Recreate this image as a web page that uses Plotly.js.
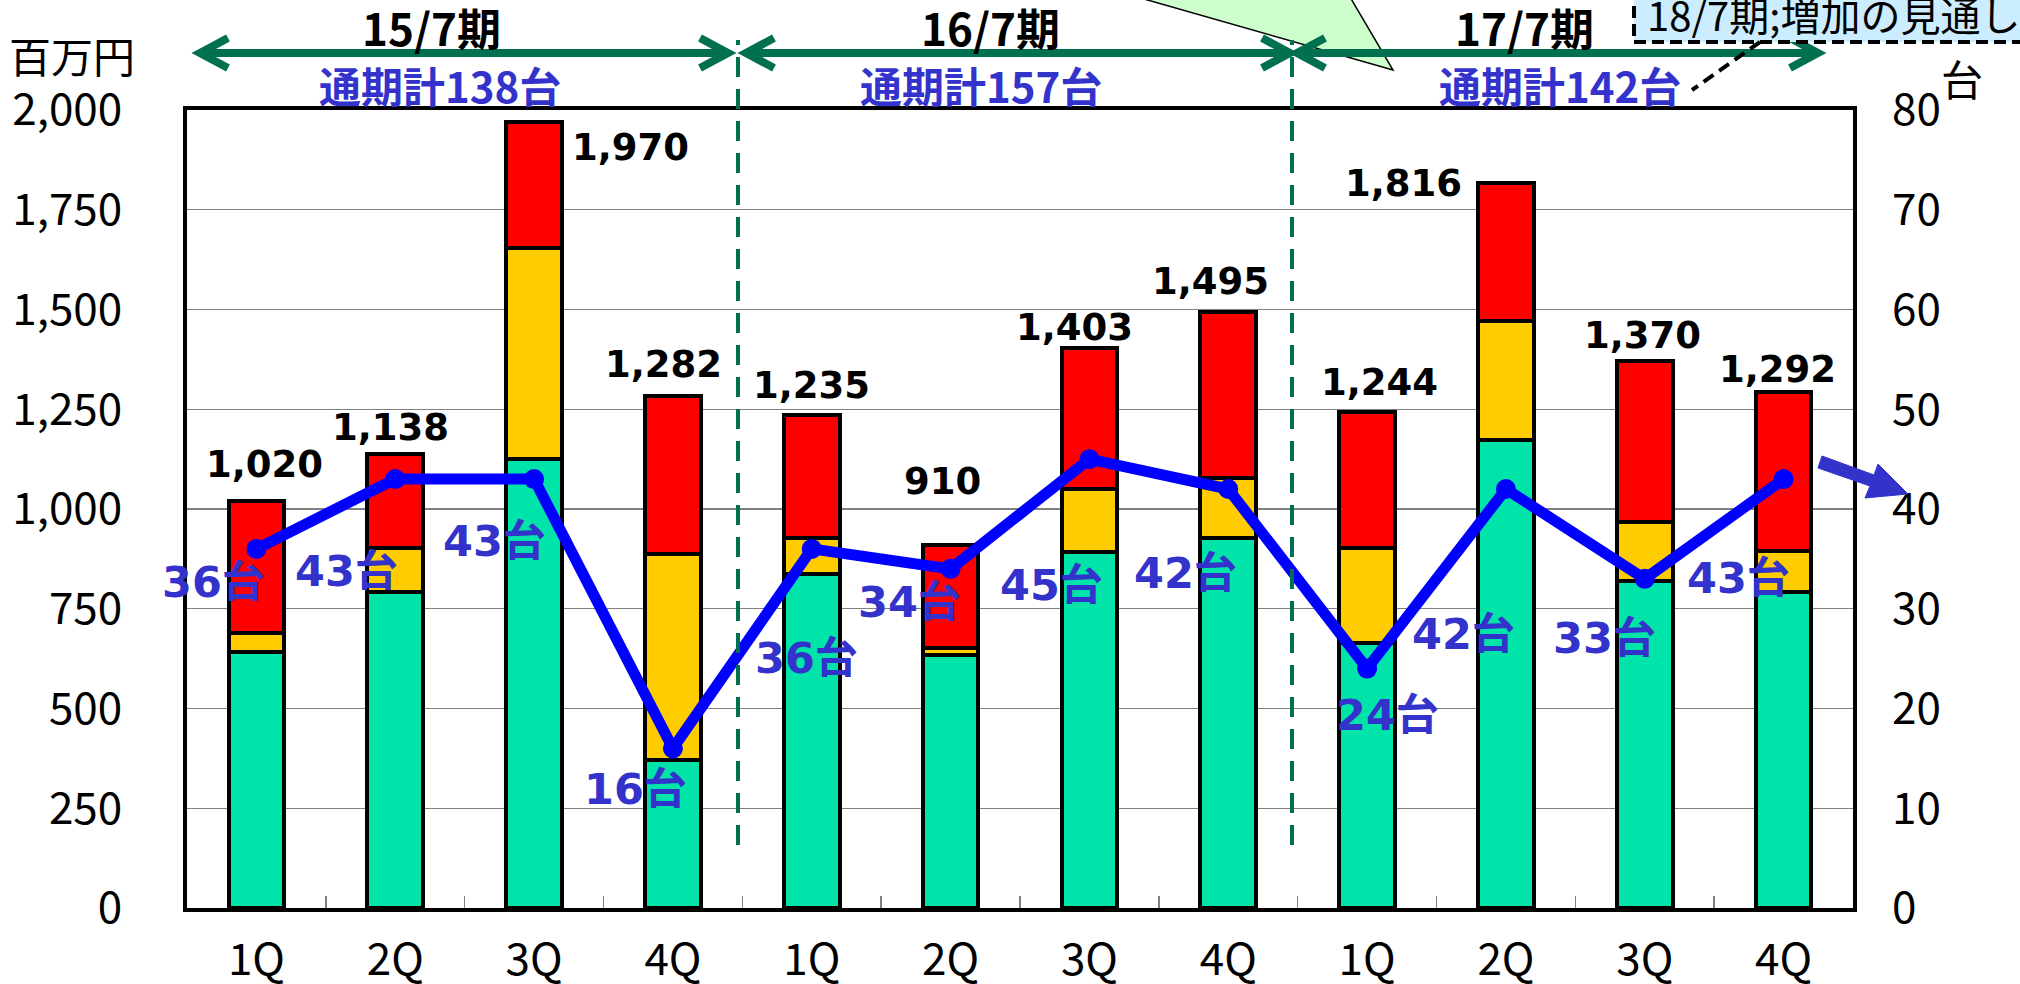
<!DOCTYPE html>
<html>
<head>
<meta charset="utf-8">
<script src="https://cdn.plot.ly/plotly-3.0.1.min.js"></script>
<style>html,body{margin:0;padding:0;background:#fff;}#chart{width:2020px;height:984px;}</style>
</head>
<body>
<div id="chart"></div>
<script>
// ---- data ----
const quarters = ['1Q','2Q','3Q','4Q','1Q','2Q','3Q','4Q','1Q','2Q','3Q','4Q'];
const greenVals  = [642, 793, 1125, 370, 838, 634, 892, 928, 665, 1173, 819, 793];
const yellowVals = [47, 109, 529, 518, 89, 18, 159, 149, 237, 299, 148, 101];
const redVals    = [331, 236, 316, 394, 308, 258, 352, 418, 342, 344, 403, 398];
const units      = [36, 43, 43, 16, 36, 34, 45, 42, 24, 42, 33, 43];
const periods    = ['15/7期', '16/7期', '17/7期'];
const leftTicks  = [0, 250, 500, 750, 1000, 1250, 1500, 1750, 2000];
const rightTicks = [0, 10, 20, 30, 40, 50, 60, 70, 80];

// ---- geometry helpers (pixel -> paper) ----
const L = 187, R = 1853, T = 110, B = 908;
const X = px => (px - L) / (R - L);
const Y = py => (B - py) / (B - T);
const path = (...subs) => subs.map(s => s.map((p, i) => (i ? 'L' : 'M') + X(p[0]).toFixed(5) + ',' + Y(p[1]).toFixed(5)).join(' ')).join(' ');

const xs = quarters.map((_, i) => i);
const totals = xs.map(i => greenVals[i] + yellowVals[i] + redVals[i]);

const barLine = {color: '#000000', width: 4};
const traces = [
  {type: 'bar', x: xs, y: greenVals, width: 0.4, marker: {color: '#00E3A9', line: barLine}, hoverinfo: 'y'},
  {type: 'bar', x: xs, y: yellowVals, width: 0.4, marker: {color: '#FFCC00', line: barLine}, hoverinfo: 'y'},
  {type: 'bar', x: xs, y: redVals, width: 0.4, marker: {color: '#FF0000', line: barLine}, hoverinfo: 'y'},
  {type: 'scatter', mode: 'lines+markers', x: xs, y: units, yaxis: 'y2',
   line: {color: '#0000FF', width: 11}, marker: {color: '#0000FF', size: 20}, hoverinfo: 'y'}
];

// label offsets (px) relative to bar top / line point
const totalShift = [[8,37],[-5,26],[96,-26],[-9,32],[0,30],[-8,63],[-15,21],[-18,30],[12,29],[-102,0],[-2,26],[-6,23]];
const unitShift  = [[-43,-33],[-49,-92],[-40,-62],[-37,-41],[-5,-109],[-41,-33],[-38,-126],[-43,-84],[20,-46],[-42,-145],[-40,-59],[-45,-99]];

const annotations = [];
xs.forEach(i => {
  annotations.push({x: i, y: totals[i], xref: 'x', yref: 'y', showarrow: false,
    text: '<b>' + totals[i].toLocaleString('en-US') + '</b>', xanchor: 'center', yanchor: 'middle',
    xshift: totalShift[i][0], yshift: totalShift[i][1],
    font: {family: 'DejaVu Sans, sans-serif', size: 37, color: '#000000'}});
  annotations.push({x: i, y: units[i], xref: 'x', yref: 'y2', showarrow: false,
    text: '<b>' + units[i] + '台</b>', xanchor: 'center', yanchor: 'middle',
    xshift: unitShift[i][0], yshift: unitShift[i][1],
    font: {family: 'DejaVu Sans, Noto Sans CJK JP, sans-serif', size: 43, color: '#3333CC'}});
});

// period labels
const periodX = [431, 990, 1524];
const periodSumX = [440, 981, 1560];
periods.forEach((p, k) => {
  const sum = units.slice(k * 4, k * 4 + 4).reduce((a, b) => a + b, 0);
  annotations.push({x: X(periodX[k]), y: Y(27), xref: 'paper', yref: 'paper', showarrow: false,
    text: '<b>' + p + '</b>', xanchor: 'center', yanchor: 'middle',
    font: {family: 'Noto Sans CJK JP', size: 44, color: '#000000'}});
  annotations.push({x: X(periodSumX[k]), y: Y(84), xref: 'paper', yref: 'paper', showarrow: false,
    text: '<b>通期計' + sum + '台</b>', xanchor: 'center', yanchor: 'middle',
    font: {family: 'Noto Sans CJK JP', size: 42, color: '#3333CC'}});
});
annotations.push({x: X(72), y: Y(54), xref: 'paper', yref: 'paper', showarrow: false, text: '百万円',
  xanchor: 'center', yanchor: 'middle', font: {family: 'Noto Sans CJK JP', size: 42, color: '#000'}});
annotations.push({x: X(1962), y: Y(77), xref: 'paper', yref: 'paper', showarrow: false, text: '台',
  xanchor: 'center', yanchor: 'middle', font: {family: 'Noto Sans CJK JP', size: 42, color: '#000'}});
annotations.push({x: X(1645), y: Y(14), xref: 'paper', yref: 'paper', showarrow: false, text: '18/7期;増加の見通し',
  xanchor: 'left', yanchor: 'middle', font: {family: 'Noto Sans CJK JP', size: 40, color: '#000'}});

const G = '#007050';
const arrowPath = (a, b, y) => path([[a, y], [b, y]], [[a + 28, y - 15], [a, y], [a + 28, y + 15]], [[b - 28, y - 15], [b, y], [b - 28, y + 15]]);

const shapes = [
  // green callout wedge
  {type: 'path', xref: 'paper', yref: 'paper', layer: 'below', path: path([[1137, -3], [1393, 70], [1350, -3]]) + ' Z',
   fillcolor: '#CCFFCC', line: {color: '#000', width: 1.5}},
  // dashed dividers
  {type: 'line', xref: 'paper', yref: 'paper', x0: X(738), x1: X(738), y0: Y(845), y1: Y(40), line: {color: G, width: 4, dash: '20px,12px'}},
  {type: 'line', xref: 'paper', yref: 'paper', x0: X(1292), x1: X(1292), y0: Y(845), y1: Y(40), line: {color: G, width: 4, dash: '20px,12px'}},
  // period arrows
  {type: 'path', xref: 'paper', yref: 'paper', path: arrowPath(200, 728, 53), line: {color: G, width: 8}},
  {type: 'path', xref: 'paper', yref: 'paper', path: arrowPath(746, 1290, 53), line: {color: G, width: 8}},
  {type: 'path', xref: 'paper', yref: 'paper', path: arrowPath(1297, 1818, 53), line: {color: G, width: 8}},
  // 18/7 callout box
  {type: 'rect', xref: 'paper', yref: 'paper', x0: X(1634), x1: X(2040), y0: Y(42), y1: Y(-20),
   fillcolor: '#CCECFF', line: {color: '#000', width: 4, dash: '12px,6px'}},
  {type: 'line', xref: 'paper', yref: 'paper', x0: X(1760), y0: Y(42), x1: X(1692), y1: Y(90), line: {color: '#000', width: 4, dash: '12px,7px'}},
  // blue arrow right
  {type: 'path', xref: 'paper', yref: 'paper', path: path([[1822, 456], [1874, 475], [1878, 464], [1908, 494], [1865, 498], [1870, 486], [1818, 468]]) + ' Z',
   fillcolor: '#3333CC', line: {color: '#3333CC', width: 1}}
];

const tickFont = {family: 'Noto Sans CJK JP', size: 44, color: '#000'};
const layout = {
  width: 2020, height: 984, autosize: false,
  margin: {l: L, r: 2020 - R, t: T, b: 984 - B, pad: 0},
  paper_bgcolor: '#fff', plot_bgcolor: '#fff',
  barmode: 'stack', showlegend: false,
  font: {family: 'Noto Sans CJK JP'},
  xaxis: {range: [-0.5, 11.5], tickmode: 'array', tickvals: xs, ticktext: quarters, ticks: '',
    tickfont: tickFont, ticklabelstandoff: 10, showgrid: false, zeroline: false,
    showline: true, linecolor: '#000', linewidth: 4, mirror: true,
    minor: {tickmode: 'array', tickvals: xs.slice(1).map(i => i - 0.5), ticks: 'inside', ticklen: 12, tickcolor: '#808080', tickwidth: 1.5, showgrid: false}},
  yaxis: {range: [0, 2000], tickmode: 'array', tickvals: leftTicks, tickformat: ',d', ticks: '',
    tickfont: tickFont, ticklabelstandoff: 52, showgrid: true, gridcolor: '#808080', gridwidth: 1.2,
    zeroline: false, showline: true, linecolor: '#000', linewidth: 4, mirror: true},
  yaxis2: {range: [0, 80], overlaying: 'y', side: 'right', tickmode: 'array', tickvals: rightTicks, ticks: '',
    tickfont: tickFont, ticklabelstandoff: 38, showgrid: false, zeroline: false, showline: false},
  annotations: annotations,
  shapes: shapes
};

Plotly.newPlot('chart', traces, layout, {displayModeBar: false, staticPlot: true});
</script>
</body>
</html>
